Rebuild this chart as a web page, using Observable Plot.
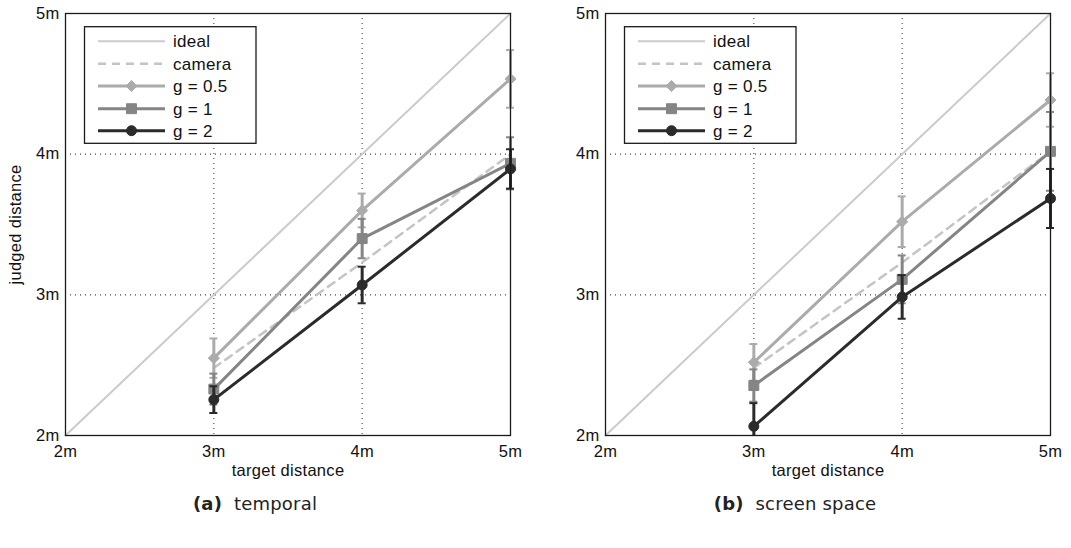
<!DOCTYPE html>
<html><head><meta charset="utf-8">
<script src="https://cdn.jsdelivr.net/npm/d3@7"></script>
<script src="https://cdn.jsdelivr.net/npm/@observablehq/plot@0.6"></script>
<style>
body{margin:0;background:#fff;width:1071px;height:548px;overflow:hidden;position:relative;font-family:"Liberation Sans",Arial,sans-serif}
.panel{position:absolute;top:0}
.cap{position:absolute;top:493px;font-family:"DejaVu Sans",sans-serif;font-size:18px;text-align:center;color:#222;letter-spacing:0.2px}
</style></head><body>
<div id="a" class="panel" style="left:0"></div>
<div id="b" class="panel" style="left:540px"></div>
<div class="cap" style="left:0;width:510px"><b>(a)</b>&nbsp; temporal</div>
<div class="cap" style="left:540px;width:510px"><b>(b)</b>&nbsp; screen space</div>
<script>
// ---- data ----
const axisTicks = [2, 3, 4, 5];
const targets = [3, 4, 5];
const idealLine = [2, 5];
const seriesNames = ["ideal", "camera", "g = 0.5", "g = 1", "g = 2"];

// panel (a) temporal
const cameraA = [2.48, 3.23, 4.0];
const g05A = [2.55, 3.60, 4.535];
const g05AErr = [0.14, 0.12, 0.205];
const g1A = [2.33, 3.40, 3.935];
const g1AErr = [0.11, 0.14, 0.185];
const g2A = [2.255, 3.07, 3.895];
const g2AErr = [0.095, 0.13, 0.14];

// panel (b) screen space
const cameraB = [2.48, 3.23, 4.02];
const g05B = [2.52, 3.52, 4.385];
const g05BErr = [0.13, 0.18, 0.19];
const g1B = [2.355, 3.11, 4.02];
const g1BErr = [0.115, 0.17, 0.28];
const g2B = [2.065, 2.985, 3.685];
const g2BErr = [0.165, 0.155, 0.21];

// ---- styles ----
const colIdeal = "#cbcbcb", colCamera = "#c4c4c4", col05 = "#ababab", col1 = "#858585", col2 = "#2b2b2b";
const styles = [
  {color: colIdeal, width: 2, dash: null, symbol: null},
  {color: colCamera, width: 2.5, dash: "8,6", symbol: null},
  {color: col05, width: 3, dash: null, symbol: "diamond2", r: 5},
  {color: col1, width: 3, dash: null, symbol: "square", r: 5.6},
  {color: col2, width: 3, dash: null, symbol: "circle", r: 5}
];
const yMin = axisTicks[0];

function rows(vals, errs) {
  return targets.map((t, i) => {
    const e = errs ? errs[i] : 0;
    const lo = vals[i] - e;
    return {x: t, y: vals[i], hi: vals[i] + e, lo: Math.max(lo, yMin), loCap: lo >= yMin};
  });
}

function seriesMarks(data, st) {
  return [
    Plot.ruleX(data, {x: "x", y1: "lo", y2: "hi", stroke: st.color, strokeWidth: 3}),
    Plot.ruleY(data, {y: "hi", x1: "x", x2: "x", insetLeft: -4, insetRight: -4, stroke: st.color, strokeWidth: 2}),
    Plot.ruleY(data.filter(d => d.loCap), {y: "lo", x1: "x", x2: "x", insetLeft: -4, insetRight: -4, stroke: st.color, strokeWidth: 2}),
    Plot.line(data, {x: "x", y: "y", stroke: st.color, strokeWidth: st.width}),
    Plot.dot(data, {x: "x", y: "y", symbol: st.symbol, r: st.r, fill: st.color, stroke: st.color, strokeWidth: 1})
  ];
}

function panel(el, opts) {
  const W = opts.width, mL = 65, mR = opts.mR, mT = 13, mB = 45, H = 480;
  const plot = Plot.plot({
    width: W, height: H, marginLeft: mL, marginRight: mR, marginTop: mT, marginBottom: mB,
    style: {fontFamily: "'Liberation Sans', Arial, sans-serif", fontSize: "16.5px", color: "#111", background: "#fff", letterSpacing: "0.3px"},
    x: {domain: [2, 5]},
    y: {domain: [2, 5]},
    marks: [
      Plot.ruleX(targets.slice(0, 2), {stroke: "#444", strokeWidth: 1.1, strokeDasharray: "1,4"}),
      Plot.ruleY(targets.slice(0, 2), {stroke: "#444", strokeWidth: 1.1, strokeDasharray: "1,4"}),
      Plot.line(idealLine.map(v => ({x: v, y: v})), {x: "x", y: "y", stroke: colIdeal, strokeWidth: 2}),
      Plot.line(rows(opts.camera), {x: "x", y: "y", stroke: colCamera, strokeWidth: 2.5, strokeDasharray: "8,6"}),
      ...seriesMarks(rows(opts.g05, opts.g05Err), styles[2]),
      ...seriesMarks(rows(opts.g1, opts.g1Err), styles[3]),
      ...seriesMarks(rows(opts.g2, opts.g2Err), styles[4]),
      Plot.frame({stroke: "#1a1a1a", strokeWidth: 1.3}),
      Plot.axisX({ticks: axisTicks, tickFormat: d => d + "m", tickSize: 0, tickPadding: 10,
        label: "target distance", labelAnchor: "center", labelArrow: "none", labelOffset: 40}),
      Plot.axisY({ticks: axisTicks, tickFormat: d => d + "m", tickSize: 0, tickPadding: 6,
        label: opts.ylabel, labelAnchor: "center", labelArrow: "none", labelOffset: 56})
    ]
  });
  // legend
  const svg = d3.select(plot);
  const lx = mL + 19.5, ly = 26.7, lw = 171.5, lh = 116.6;
  const g = svg.append("g").attr("text-anchor", "start");
  g.append("rect").attr("x", lx).attr("y", ly).attr("width", lw).attr("height", lh)
    .attr("fill", "#fff").attr("stroke", "#1a1a1a").attr("stroke-width", 1.3);
  const rowY = [41.3, 63.7, 86, 108.7, 130.7];
  seriesNames.forEach((name, i) => {
    const st = styles[i];
    const y = rowY[i];
    g.append("line").attr("x1", mL + 33).attr("x2", mL + 100).attr("y1", y).attr("y2", y)
      .attr("stroke", st.color).attr("stroke-width", st.width).attr("stroke-dasharray", st.dash);
    if (st.symbol) {
      const type = st.symbol === "square" ? d3.symbolSquare : st.symbol === "circle" ? d3.symbolCircle : d3.symbolDiamond2;
      g.append("path").attr("d", d3.symbol(type, Math.PI * st.r * st.r)())
        .attr("transform", `translate(${mL + 66.5},${y})`).attr("fill", st.color).attr("stroke", st.color);
    }
    g.append("text").attr("x", mL + 108).attr("y", y).attr("dy", "0.35em").attr("fill", "#111")
      .attr("text-anchor", "start").attr("font-size", 17).text(name);
  });
  document.getElementById(el).appendChild(plot);
}

panel("a", {width: 535, mR: 25, camera: cameraA, g05: g05A, g05Err: g05AErr, g1: g1A, g1Err: g1AErr, g2: g2A, g2Err: g2AErr, ylabel: "judged distance"});
panel("b", {width: 531, mR: 21, camera: cameraB, g05: g05B, g05Err: g05BErr, g1: g1B, g1Err: g1BErr, g2: g2B, g2Err: g2BErr, ylabel: null});
</script>
</body></html>
